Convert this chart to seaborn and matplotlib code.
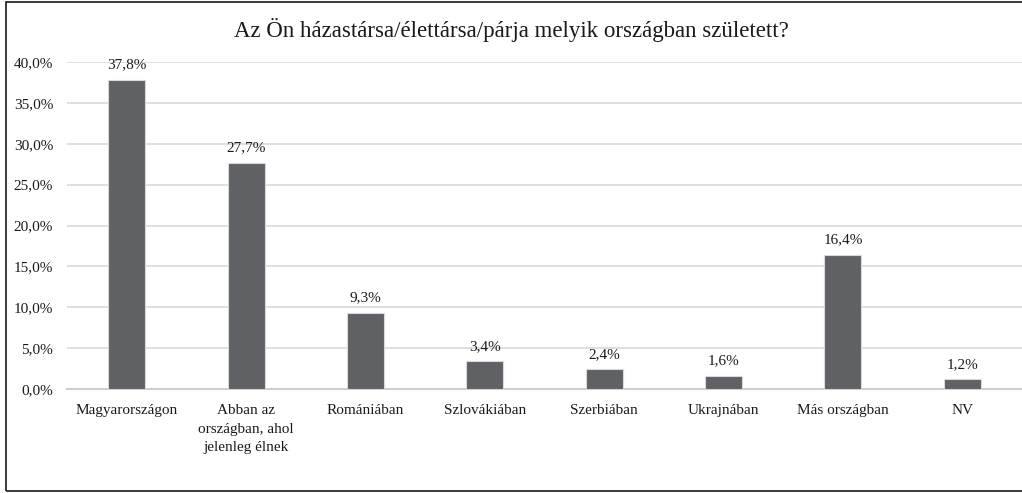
import pandas as pd
import matplotlib
matplotlib.use('Agg')
import matplotlib.pyplot as plt
import seaborn as sns
from matplotlib.patches import Rectangle
from matplotlib.ticker import FuncFormatter

# Data
categories = ['Magyarországon', 'Abban az\nországban, ahol\njelenleg élnek', 'Romániában',
              'Szlovákiában', 'Szerbiában', 'Ukrajnában', 'Más országban', 'NV']
values = [37.8, 27.7, 9.3, 3.4, 2.4, 1.6, 16.4, 1.2]
yticks = [0, 5, 10, 15, 20, 25, 30, 35, 40]
title = 'Az Ön házastársa/élettársa/párja melyik országban született?'

df = pd.DataFrame({'Ország': categories, 'Arány': values})

sns.set_style('white')
plt.rcParams['font.family'] = ['Liberation Serif', 'DejaVu Serif']

fig = plt.figure(figsize=(10.22, 4.93), dpi=100)
ax = fig.add_axes([67 / 1022, 1 - 389 / 493, 1 - 67 / 1022, (389 - 62) / 493])

sns.barplot(data=df, x='Ország', y='Arány', color='#606164', width=0.31,
            edgecolor='#d9d9d9', linewidth=0.8, ax=ax, zorder=3)

ax.set_ylim(0, 40)
ax.set_yticks(yticks)
ax.yaxis.set_major_formatter(FuncFormatter(lambda v, p: f'{v:.1f}%'.replace('.', ',')))
ax.grid(axis='y', color='#d9d9d9', linewidth=1.2, zorder=0)
for s in ['top', 'right', 'left']:
    ax.spines[s].set_visible(False)
ax.spines['bottom'].set_color('#cfcfcf')
ax.spines['bottom'].set_linewidth(1.5)
ax.set_xlabel('')
ax.set_ylabel('')
ax.tick_params(axis='both', length=0, labelsize=11, colors='#1a1a1a')
ax.tick_params(axis='y', pad=10)
ax.tick_params(axis='x', pad=11)
for lbl in ax.get_xticklabels():
    lbl.set_linespacing(1.55)

for i, v in enumerate(values):
    ax.annotate(f'{v:.1f}%'.replace('.', ','), (i, v), xytext=(0, 6),
                textcoords='offset points', ha='center', va='bottom',
                fontsize=11, color='#1a1a1a')

fig.text(0.5, 1 - 30 / 493, title, ha='center', va='center', fontsize=16.5, color='#1a1a1a')

fig.patches.append(Rectangle((6 / 1022, 2 / 493), 1.2, 489 / 493, transform=fig.transFigure,
                             fill=False, edgecolor='#1a1a1a', linewidth=1.2))

fig.savefig('out.png', dpi=100)
